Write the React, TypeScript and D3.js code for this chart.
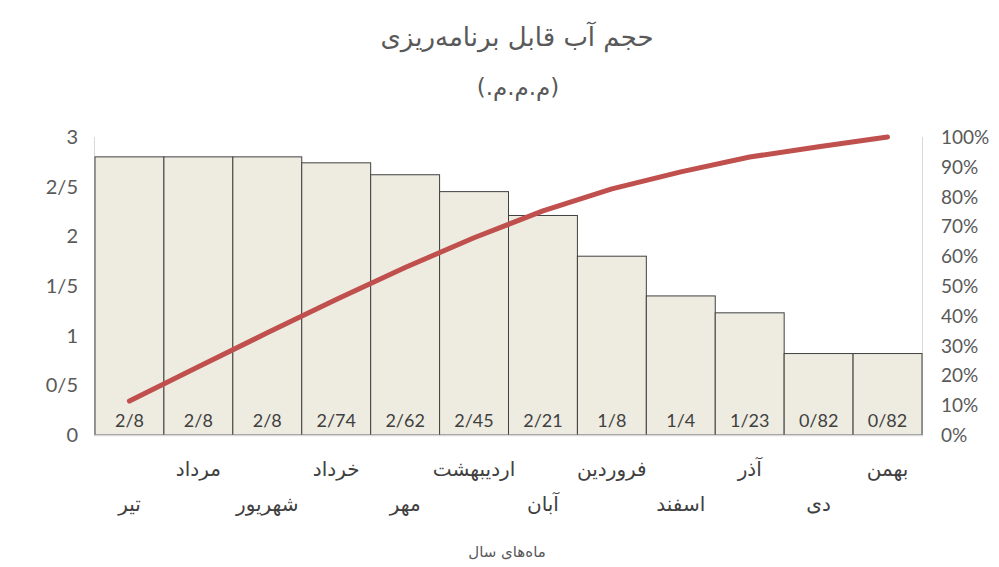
import React from 'react';
import * as d3 from 'd3';

const months = ['تیر', 'مرداد', 'شهریور', 'خرداد', 'مهر', 'اردیبهشت', 'آبان', 'فروردین', 'اسفند', 'آذر', 'دی', 'بهمن'];
const volumes = [2.8, 2.8, 2.8, 2.74, 2.62, 2.45, 2.21, 1.8, 1.4, 1.23, 0.82, 0.82];
const volumeLabels = ['2/8', '2/8', '2/8', '2/74', '2/62', '2/45', '2/21', '1/8', '1/4', '1/23', '0/82', '0/82'];
const cumulativePct = [11.4, 22.9, 34.3, 45.5, 56.2, 66.2, 75.2, 82.6, 88.3, 93.3, 96.7, 100];
const leftTicks = [0, 0.5, 1, 1.5, 2, 2.5, 3];
const leftTickLabels = ['0', '0/5', '1', '1/5', '2', '2/5', '3'];
const rightTicks = [0, 10, 20, 30, 40, 50, 60, 70, 80, 90, 100];

const title = 'حجم آب قابل برنامه‌ریزی';
// shown in visual order as in the reference: "(.م.م.م)"
const subtitle = '\u202D(.م.م.م)\u202C';
const xTitle = 'ماه‌های سال';

const W = 999;
const H = 567;
const plot = { left: 95, right: 922, top: 137, bottom: 435 };
const faFont = '"DejaVu Sans", sans-serif';
const numFont = 'Lato, "Open Sans", sans-serif';

export default function App() {
  const x = d3.scaleBand<number>().domain(d3.range(months.length)).range([plot.left, plot.right]).padding(0);
  const y = d3.scaleLinear().domain([0, 3]).range([plot.bottom, plot.top]);
  const y2 = d3.scaleLinear().domain([0, 100]).range([plot.bottom, plot.top]);
  const line = d3
    .line<number>()
    .x((_, i) => (x(i) as number) + x.bandwidth() / 2)
    .y((d) => y2(d));

  return (
    <svg width={W} height={H} style={{ position: 'absolute', left: 0, top: 0, background: '#fff' }}>
      <text x={517} y={46} textAnchor="middle" direction="rtl" fontFamily={faFont} fontSize={26} fill="#595959">
        {title}
      </text>
      <text x={518} y={95} textAnchor="middle" fontFamily={faFont} fontSize={23} fill="#595959">
        {subtitle}
      </text>

      {/* axis lines */}
      <line x1={plot.left - 0.5} x2={plot.left - 0.5} y1={plot.top} y2={plot.bottom} stroke="#d9d9d9" strokeWidth={1} />
      <line x1={plot.right + 0.5} x2={plot.right + 0.5} y1={plot.top} y2={plot.bottom} stroke="#d9d9d9" strokeWidth={1} />

      {volumes.map((v, i) => (
        <rect
          key={i}
          x={x(i)}
          y={y(v)}
          width={x.bandwidth()}
          height={plot.bottom - y(v)}
          fill="#eeece1"
          stroke="#404040"
          strokeWidth={1}
        />
      ))}
      <line x1={plot.left - 1} x2={plot.right + 1} y1={plot.bottom + 0.5} y2={plot.bottom + 0.5} stroke="#d9d9d9" strokeWidth={1.5} />

      {volumeLabels.map((l, i) => (
        <text
          key={i}
          x={(x(i) as number) + x.bandwidth() / 2}
          y={plot.bottom - 8}
          textAnchor="middle"
          fontFamily={numFont}
          fontSize={18}
          fill="#404040"
        >
          {l}
        </text>
      ))}

      <path d={line(cumulativePct) || ''} fill="none" stroke="#c0504d" strokeWidth={5} strokeLinecap="round" strokeLinejoin="round" />

      {leftTicks.map((t, i) => (
        <text key={i} x={78} y={y(t) + 7} textAnchor="end" fontFamily={numFont} fontSize={20} fill="#595959">
          {leftTickLabels[i]}
        </text>
      ))}
      {rightTicks.map((t, i) => (
        <text key={i} x={941} y={y2(t) + 7} textAnchor="start" fontFamily={numFont} fontSize={19} fill="#595959">
          {t + '%'}
        </text>
      ))}

      {months.map((m, i) => (
        <text
          key={i}
          x={(x(i) as number) + x.bandwidth() / 2}
          y={i % 2 === 1 ? 476 : 511}
          textAnchor="middle"
          direction="rtl"
          fontFamily={faFont}
          fontSize={20}
          fill="#404040"
        >
          {m}
        </text>
      ))}

      <text x={507} y={557} textAnchor="middle" direction="rtl" fontFamily={faFont} fontSize={15} fill="#595959">
        {xTitle}
      </text>
    </svg>
  );
}
